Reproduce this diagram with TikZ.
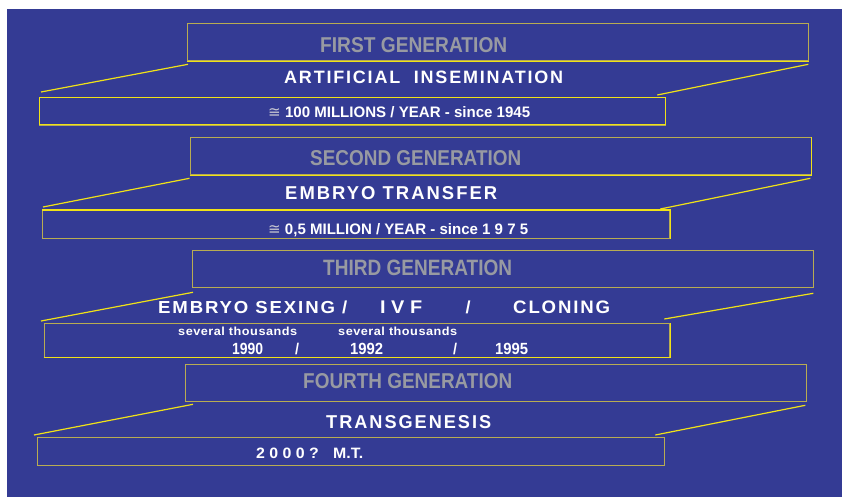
\documentclass[tikz,border=0pt]{standalone}
\usepackage{fontspec}
\usepackage{graphicx}
\setmainfont{Liberation Sans}
\newfontfamily\symfont{DejaVu Sans}
\usetikzlibrary{calc}
\definecolor{bgblue}{RGB}{52,59,148}
\definecolor{boxolive}{RGB}{184,172,82}
\definecolor{boxyel}{RGB}{240,226,24}
\definecolor{titlegray}{RGB}{152,154,162}
\definecolor{symgray}{RGB}{200,200,210}
\newcommand\fitt[3]{\resizebox{#1pt}{#2pt}{#3}}
\newcommand\wsp[1]{\addfontfeature{LetterSpace=#1}}
\newcommand\approxsym{{\symfont\mdseries\color{symgray}≅}}
\begin{document}
\begin{tikzpicture}[x=1pt,y=-1pt,
  genbox/.style={draw=boxolive,line width=1.3pt,inner sep=0pt,anchor=north west},
  yedge/.style={draw=boxyel,line width=1.3pt},
  conn/.style={draw=boxyel,line width=1.2pt},
  lbl/.style={anchor=base west,inner sep=0pt,font=\bfseries,text=white},
  gentitle/.style={lbl,text=titlegray}]
\useasboundingbox (0,0) rectangle (842,497);
\fill[white] (0,0) rectangle (842,497);
\fill[bgblue] (7,9) rectangle (842,497);

% ---------- generation 1 ----------
\node[genbox,minimum width=621pt,minimum height=37pt] (t1) at (187,23) {};
\node[genbox,draw=boxyel,minimum width=626pt,minimum height=27pt] (b1) at (39,97) {};
\draw[yedge] (t1.south west) -- (t1.south east);
\draw[draw=boxolive,line width=1.3pt] (b1.south west) -- (b1.south east);
\coordinate (l1a) at ($(t1.south west)+(1,3)$);
\coordinate (l1b) at ($(b1.north west)+(2,-5)$);
\coordinate (r1a) at ($(t1.south east)+(-1,3)$);
\coordinate (r1b) at ($(b1.north east)+(-9,-2)$);
\draw[conn] (l1a) -- (l1b);
\draw[conn] (r1a) -- (r1b);
\node[gentitle] (g1) at (320,52.5) {\fitt{187}{15}{FIRST GENERATION}};
\node[lbl] (n1) at (284,83.5) {\fitt{279}{12.5}{\wsp{10}ARTIFICIAL~~INSEMINATION}};
\node[lbl] (d1) at (268,118) {\fitt{262}{11}{\approxsym\ 100 MILLIONS / YEAR - since 1945}};

% ---------- generation 2 ----------
\node[genbox,minimum width=621pt,minimum height=37pt] (t2) at (189.5,137) {};
\node[genbox,minimum width=627pt,minimum height=28pt] (b2) at (42,210) {};
\draw[yedge] (t2.south west) -- (t2.south east) -- (t2.north east);
\draw[yedge] (b2.north west) -- (b2.north east) -- (b2.south east);
\coordinate (l2a) at ($(t2.south west)+(0,3)$);
\coordinate (l2b) at ($(b2.north west)+(1,-3)$);
\coordinate (r2a) at ($(t2.south east)+(-1.5,3)$);
\coordinate (r2b) at ($(b2.north east)+(-10,-1)$);
\draw[conn] (l2a) -- (l2b);
\draw[conn] (r2a) -- (r2b);
\node[gentitle] (g2) at (310,165.5) {\fitt{211}{15}{SECOND GENERATION}};
\node[lbl] (n2) at (285,199) {\fitt{212}{13}{\wsp{11}EMBRYO TRANSFER}};
\node[lbl] (d2) at (268,234) {\fitt{260}{11}{\approxsym\ 0,5 MILLION / YEAR - since 1 9 7 5}};

% ---------- generation 3 ----------
\node[genbox,minimum width=621pt,minimum height=37.5pt] (t3) at (191.5,249.5) {};
\node[genbox,minimum width=625.5pt,minimum height=34pt] (b3) at (43.5,322.5) {};
\draw[yedge] (b3.south west) -- (b3.south east) -- (b3.north east);
\coordinate (l3a) at ($(t3.south west)+(1.5,4)$);
\coordinate (l3b) at ($(b3.north west)+(-2.5,-1.5)$);
\coordinate (r3a) at ($(t3.south east)+(-0.5,5)$);
\coordinate (r3b) at ($(b3.north east)+(-6,-3.5)$);
\draw[conn] (l3a) -- (l3b);
\draw[conn] (r3a) -- (r3b);
\node[gentitle] (g3) at (323,275.5) {\fitt{189}{15.5}{THIRD GENERATION}};
\node[lbl] (n3a) at (158,313.3) {\fitt{189}{12.6}{\wsp{10}EMBRYO SEXING /}};
\node[lbl] (n3b) at (380,313.3) {\fitt{42}{12.6}{I V F}};
\node[lbl] (n3c) at (465.5,313.3) {\fitt{5}{12.6}{/}};
\node[lbl] (n3d) at (513,313.3) {\fitt{97}{12.6}{\wsp{10}CLONING}};
\node[lbl] (s3a) at (178,335) {\fitt{119}{8.5}{\wsp{4}several thousands}};
\node[lbl] (s3b) at (338,335) {\fitt{119}{8.5}{\wsp{4}several thousands}};
\node[lbl] (y3a) at (232,354) {\fitt{31}{11.3}{1990}};
\node[lbl] (y3b) at (295,354) {\fitt{4}{11.3}{/}};
\node[lbl] (y3c) at (350,354) {\fitt{33}{11.3}{1992}};
\node[lbl] (y3d) at (453,354) {\fitt{4}{11.3}{/}};
\node[lbl] (y3e) at (495,354) {\fitt{33}{11.3}{1995}};

% ---------- generation 4 ----------
\node[genbox,minimum width=621pt,minimum height=37pt] (t4) at (184.5,363.5) {};
\node[genbox,minimum width=627pt,minimum height=28pt] (b4) at (37,437) {};
\coordinate (l4a) at ($(t4.south west)+(8.5,2.5)$);
\coordinate (l4b) at ($(b4.north west)+(-3,-2)$);
\coordinate (r4a) at ($(t4.south east)+(-1.5,3.5)$);
\coordinate (r4b) at ($(b4.north east)+(-10,-2)$);
\draw[conn] (l4a) -- (l4b);
\draw[conn] (r4a) -- (r4b);
\node[gentitle] (g4) at (303,388) {\fitt{209}{15}{FOURTH GENERATION}};
\node[lbl] (n4) at (326,428) {\fitt{165}{13}{\wsp{11}TRANSGENESIS}};
\node[lbl] (d4) at (256,458) {\fitt{107}{10.5}{2 0 0 0 ?\hspace{0.9em}M.T.}};
\end{tikzpicture}
\end{document}
